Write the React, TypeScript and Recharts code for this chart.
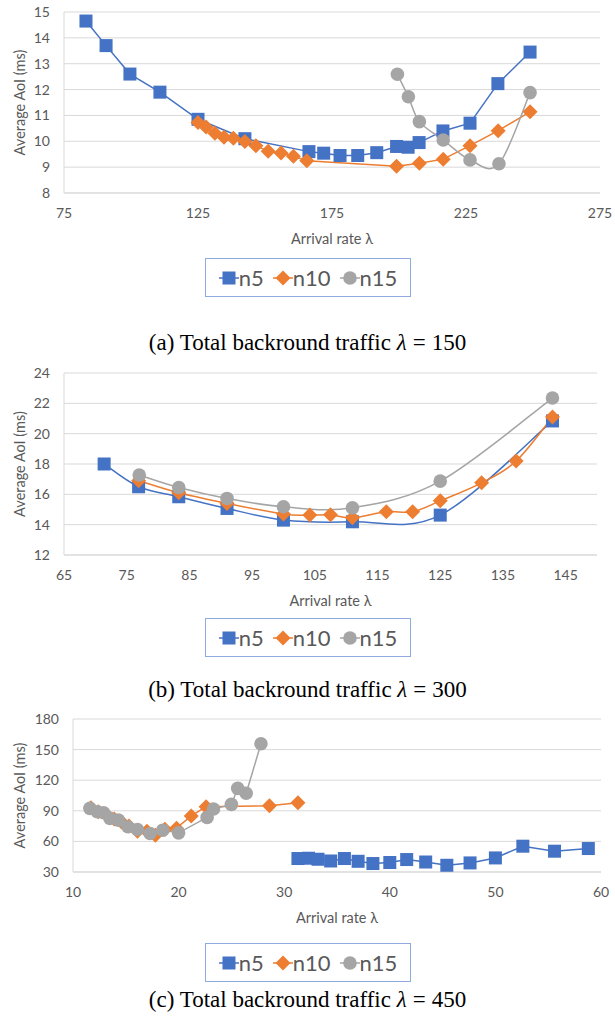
import React from 'react'
import { LineChart, Line, XAxis, YAxis, CartesianGrid } from 'recharts'

// (a) lambda = 150
const a_n5X = [83.2, 90.7, 99.6, 110.8, 125, 142.5, 166.4, 171.9, 178, 184.6, 191.7, 199.1, 203.4, 207.5, 216.4, 226.5, 236.9, 248.9]
const a_n5Y = [14.65, 13.7, 12.6, 11.9, 10.85, 10.1, 9.6, 9.54, 9.45, 9.45, 9.56, 9.8, 9.77, 9.95, 10.4, 10.7, 12.23, 13.45]
const a_n10X = [125, 128, 131.3, 134.7, 138.2, 142.5, 146.6, 151.2, 156, 160.6, 165.6, 199.1, 207.6, 216.5, 226.5, 237, 248.9]
const a_n10Y = [10.73, 10.55, 10.31, 10.16, 10.12, 9.99, 9.83, 9.61, 9.55, 9.42, 9.25, 9.03, 9.15, 9.31, 9.83, 10.41, 11.14]
const a_n15X = [199.4, 203.5, 207.6, 216.5, 226.5, 237.3, 248.9]
const a_n15Y = [12.59, 11.72, 10.76, 10.05, 9.28, 9.13, 11.88]
const a_xTicks = [75, 125, 175, 225, 275]
const a_yTicks = [8, 9, 10, 11, 12, 13, 14, 15]

// (b) lambda = 300
const b_n5X = [71.4, 76.9, 83.3, 91, 100, 111, 125, 142.9]
const b_n5Y = [18.0, 16.5, 15.84, 15.07, 14.3, 14.19, 14.63, 20.84]
const b_n10X = [76.9, 83.3, 91, 100, 104.2, 107.5, 111, 116.4, 120.6, 125, 131.6, 137.1, 142.9]
const b_n10Y = [16.9, 16.1, 15.4, 14.7, 14.63, 14.65, 14.45, 14.85, 14.85, 15.57, 16.76, 18.19, 21.1]
const b_n15X = [77, 83.3, 91, 100, 111, 125, 142.9]
const b_n15Y = [17.27, 16.45, 15.73, 15.18, 15.11, 16.87, 22.35]
const b_xTicks = [65, 75, 85, 95, 105, 115, 125, 135, 145]
const b_yTicks = [12, 14, 16, 18, 20, 22, 24]

// (c) lambda = 450
const c_n5X = [31.3, 32.3, 33.2, 34.4, 35.7, 37.0, 38.4, 40.0, 41.6, 43.4, 45.4, 47.6, 50.0, 52.6, 55.6, 58.8]
const c_n5Y = [43.2, 43.5, 42.5, 40.8, 43.2, 40.5, 38.3, 39.3, 42.2, 39.8, 36.6, 38.9, 43.8, 55.3, 50.4, 53]
const c_n10X = [11.7, 12.4, 13.2, 13.9, 14.6, 15.3, 16.1, 17.0, 17.8, 18.7, 19.8, 21.2, 22.6, 28.6, 31.3]
const c_n10Y = [93, 89, 86, 82, 79, 75, 70, 70, 66, 72, 73, 85, 94, 95, 98]
const c_n15X = [11.6, 12.3, 12.9, 13.5, 14.3, 15.2, 16.1, 17.3, 18.5, 20.0, 22.7, 23.3, 25.0, 25.6, 26.4, 27.8]
const c_n15Y = [92.4, 89.1, 88.1, 82.6, 80.9, 74.3, 71.7, 67.8, 71, 68.4, 83.5, 91.7, 96.3, 112, 107.2, 155.7]
const c_xTicks = [10, 20, 30, 40, 50, 60]
const c_yTicks = [30, 60, 90, 120, 150, 180]

const BLUE = '#4472C4'
const ORANGE = '#ED7D31'
const GRAY = '#A5A5A5'
const TEXT = '#595959'
const FONT = 'Lato, "Open Sans", sans-serif'

const zip = (xs: number[], ys: number[]) => xs.map((x, i) => ({ x, y: ys[i] }))

// Excel-like smoothed line (Catmull-Rom as cubic bezier)
const excelSmooth = (context: any) => {
  let pts: number[][] = []
  return {
    areaStart() {},
    areaEnd() {},
    lineStart() {
      pts = []
    },
    point(x: number, y: number) {
      pts.push([+x, +y])
    },
    lineEnd() {
      if (!pts.length) return
      context.moveTo(pts[0][0], pts[0][1])
      for (let i = 0; i < pts.length - 1; i++) {
        const p0 = pts[Math.max(0, i - 1)]
        const p1 = pts[i]
        const p2 = pts[i + 1]
        const p3 = pts[Math.min(pts.length - 1, i + 2)]
        context.bezierCurveTo(
          p1[0] + (p2[0] - p0[0]) / 6,
          p1[1] + (p2[1] - p0[1]) / 6,
          p2[0] - (p3[0] - p1[0]) / 6,
          p2[1] - (p3[1] - p1[1]) / 6,
          p2[0],
          p2[1]
        )
      }
    },
  }
}

type Shape = 'square' | 'diamond' | 'circle'

const Marker = ({ cx, cy, color, shape }: { cx: number; cy: number; color: string; shape: Shape }) => {
  if (shape === 'square') {
    return <rect x={cx - 6.5} y={cy - 6.5} width={13} height={13} fill={color} />
  }
  if (shape === 'diamond') {
    return (
      <polygon
        points={`${cx},${cy - 7.5} ${cx + 7.5},${cy} ${cx},${cy + 7.5} ${cx - 7.5},${cy}`}
        fill={color}
      />
    )
  }
  return <circle cx={cx} cy={cy} r={6.8} fill={color} />
}

interface Series {
  name: string
  data: { x: number; y: number }[]
  color: string
  shape: Shape
  smooth: boolean
}

interface PanelProps {
  top: number
  plotLeft: number
  plotTop: number
  plotBottom: number
  plotRight: number
  xDomain: [number, number]
  xTicks: number[]
  yDomain: [number, number]
  yTicks: number[]
  series: Series[]
  legendTop: number
  captionTop: number
  tag: string
  traffic: string
}

function LegendBox({ top, series }: { top: number; series: Series[] }) {
  return (
    <div
      style={{
        position: 'absolute',
        top,
        left: 205,
        width: 206,
        height: 39,
        boxSizing: 'border-box',
        border: '1px solid #8FAADC',
        display: 'flex',
        alignItems: 'center',
        justifyContent: 'center',
        gap: 9,
        fontFamily: FONT,
        fontSize: 22,
        color: TEXT,
      }}
    >
      {series.map((s) => (
        <div key={s.name} style={{ display: 'flex', alignItems: 'center' }}>
          <svg width={20} height={20} style={{ display: 'block' }}>
            <line x1={0} y1={10} x2={20} y2={10} stroke={s.color} strokeWidth={1.5} />
            <Marker cx={10} cy={10} color={s.color} shape={s.shape} />
          </svg>
          <span>{s.name}</span>
        </div>
      ))}
    </div>
  )
}

function AoiPanel(p: PanelProps) {
  const axisH = 56
  const height = p.plotBottom - p.top + axisH
  return (
    <>
      <div style={{ position: 'absolute', top: p.top, left: 0 }}>
        <LineChart
          width={615}
          height={height}
          margin={{ top: p.plotTop - p.top, right: 615 - p.plotRight, bottom: 0, left: 0 }}
        >
          <CartesianGrid horizontal vertical={false} stroke="#D9D9D9" strokeWidth={1} />
          <XAxis
            type="number"
            dataKey="x"
            domain={p.xDomain}
            ticks={p.xTicks}
            allowDataOverflow
            height={axisH}
            stroke="#D9D9D9"
            tickLine={false}
            tickSize={0}
            tickMargin={15}
            tick={{ fill: TEXT, fontSize: 14, fontFamily: FONT }}
            label={{
              value: 'Arrival rate λ',
              position: 'insideBottom',
              offset: 5,
              fill: TEXT,
              fontSize: 14.5,
              fontFamily: FONT,
            }}
          />
          <YAxis
            type="number"
            domain={p.yDomain}
            ticks={p.yTicks}
            allowDataOverflow
            width={p.plotLeft}
            stroke="#D9D9D9"
            tickLine={false}
            tickSize={0}
            tickMargin={14}
            tick={{ fill: TEXT, fontSize: 14, fontFamily: FONT }}
            label={{
              value: 'Average AoI (ms)',
              angle: -90,
              position: 'insideLeft',
              offset: 20,
              fill: TEXT,
              fontSize: 14.5,
              fontFamily: FONT,
              style: { textAnchor: 'middle' },
            }}
          />
          {p.series.map((s) => (
            <Line
              key={s.name}
              data={s.data}
              dataKey="y"
              name={s.name}
              type={s.smooth ? (excelSmooth as any) : 'linear'}
              stroke={s.color}
              strokeWidth={1.5}
              isAnimationActive={false}
              dot={(d: any) => <Marker key={d.index} cx={d.cx} cy={d.cy} color={s.color} shape={s.shape} />}
              activeDot={false}
            />
          ))}
        </LineChart>
      </div>
      <LegendBox top={p.legendTop} series={p.series} />
      <div
        style={{
          position: 'absolute',
          top: p.captionTop,
          left: 0,
          width: 615,
          textAlign: 'center',
          fontFamily: '"Liberation Serif", "DejaVu Serif", serif',
          fontSize: 23,
          color: '#000',
          lineHeight: '26px',
          whiteSpace: 'nowrap',
        }}
      >
        ({p.tag}) Total backround traffic <i>λ</i>
        <span style={{ margin: '0 6px' }}>=</span>
        {p.traffic}
      </div>
    </>
  )
}

export default function App() {
  const seriesA: Series[] = [
    { name: 'n5', data: zip(a_n5X, a_n5Y), color: BLUE, shape: 'square', smooth: false },
    { name: 'n10', data: zip(a_n10X, a_n10Y), color: ORANGE, shape: 'diamond', smooth: false },
    { name: 'n15', data: zip(a_n15X, a_n15Y), color: GRAY, shape: 'circle', smooth: true },
  ]
  const seriesB: Series[] = [
    { name: 'n5', data: zip(b_n5X, b_n5Y), color: BLUE, shape: 'square', smooth: true },
    { name: 'n10', data: zip(b_n10X, b_n10Y), color: ORANGE, shape: 'diamond', smooth: true },
    { name: 'n15', data: zip(b_n15X, b_n15Y), color: GRAY, shape: 'circle', smooth: true },
  ]
  const seriesC: Series[] = [
    { name: 'n5', data: zip(c_n5X, c_n5Y), color: BLUE, shape: 'square', smooth: false },
    { name: 'n10', data: zip(c_n10X, c_n10Y), color: ORANGE, shape: 'diamond', smooth: false },
    { name: 'n15', data: zip(c_n15X, c_n15Y), color: GRAY, shape: 'circle', smooth: false },
  ]
  return (
    <div style={{ position: 'absolute', top: 0, left: 0, width: 615, height: 1018, background: '#fff' }}>
      <AoiPanel
        top={0}
        plotLeft={64}
        plotTop={12}
        plotBottom={193}
        plotRight={600}
        xDomain={[75, 275]}
        xTicks={a_xTicks}
        yDomain={[8, 15]}
        yTicks={a_yTicks}
        series={seriesA}
        legendTop={258}
        captionTop={330}
        tag="a"
        traffic="150"
      />
      <AoiPanel
        top={360}
        plotLeft={64}
        plotTop={373}
        plotBottom={555}
        plotRight={597}
        xDomain={[65, 150]}
        xTicks={b_xTicks}
        yDomain={[12, 24]}
        yTicks={b_yTicks}
        series={seriesB}
        legendTop={618}
        captionTop={677}
        tag="b"
        traffic="300"
      />
      <AoiPanel
        top={706}
        plotLeft={73}
        plotTop={719}
        plotBottom={872}
        plotRight={601}
        xDomain={[10, 60]}
        xTicks={c_xTicks}
        yDomain={[30, 180]}
        yTicks={c_yTicks}
        series={seriesC}
        legendTop={943}
        captionTop={987}
        tag="c"
        traffic="450"
      />
    </div>
  )
}
